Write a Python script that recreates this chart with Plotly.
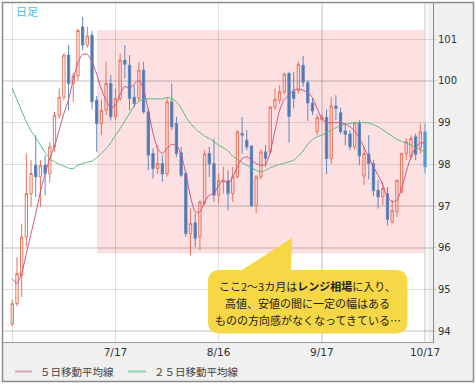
import pandas as pd
import plotly.graph_objects as go

# ---- data (USD/JPY daily) ----
dates = [d.strftime("%Y-%m-%d") for d in pd.bdate_range("2013-06-17", "2013-10-17")]

opens = [94.17, 94.66, 95.34, 96.26, 97.30, 97.98, 97.70, 97.98, 97.78, 98.42,
         99.18, 99.61, 100.62, 99.94, 100.12, 101.30, 100.86, 101.10, 99.54, 98.98,
         99.30, 99.94, 99.14, 99.58, 100.50, 100.38, 99.61, 99.58, 100.26, 99.26,
         98.26, 97.90, 98.02, 97.78, 99.50, 98.98, 98.28, 97.78, 96.34, 96.60,
         96.26, 97.08, 98.26, 98.02, 97.26, 97.58, 97.61, 97.30, 97.70, 98.74,
         98.58, 98.44, 97.02, 97.70, 98.30, 98.30, 99.37, 99.54, 99.74, 100.18,
         99.76, 99.76, 100.38, 99.96, 99.47, 98.78, 99.08, 99.13, 98.14, 99.40,
         99.24, 98.80, 98.73, 98.42, 98.99, 97.72, 98.25, 98.02, 97.38, 97.22,
         97.30, 96.62, 96.86, 97.34, 98.26, 98.18, 98.66, 98.40, 98.78]
highs = [94.75, 95.77, 96.58, 98.26, 98.10, 98.70, 98.10, 98.22, 98.54, 99.26,
         99.82, 100.66, 100.86, 100.20, 101.25, 101.54, 101.30, 101.20, 99.64, 99.54,
         100.46, 100.14, 99.82, 100.66, 100.86, 100.62, 99.90, 100.46, 100.46, 99.34,
         98.38, 98.46, 98.22, 99.58, 99.94, 99.14, 98.42, 97.82, 96.94, 96.82,
         97.14, 98.34, 98.42, 98.62, 97.78, 97.94, 97.86, 97.94, 98.82, 99.14,
         98.82, 98.46, 97.74, 98.36, 98.46, 99.40, 99.82, 99.90, 100.20, 100.22,
         100.22, 100.46, 100.60, 100.02, 99.58, 99.20, 99.20, 99.32, 99.62, 99.66,
         99.36, 98.98, 98.82, 99.02, 99.06, 98.42, 98.70, 98.10, 97.62, 97.58,
         97.46, 97.14, 97.62, 98.28, 98.62, 98.70, 98.74, 98.98, 98.98]
lows = [94.12, 94.60, 94.82, 96.02, 96.98, 97.22, 96.98, 97.26, 97.56, 98.30,
        99.10, 99.54, 99.29, 99.50, 100.00, 100.74, 100.80, 99.32, 98.30, 98.70,
        99.18, 99.05, 99.06, 99.52, 100.06, 99.30, 99.36, 99.50, 99.22, 97.86,
        97.66, 97.77, 97.58, 97.70, 98.82, 98.18, 97.70, 96.26, 95.82, 96.02,
        95.94, 97.02, 97.70, 97.10, 97.06, 97.30, 96.90, 97.10, 97.66, 98.26,
        98.34, 96.98, 96.82, 97.64, 97.94, 98.24, 99.30, 99.46, 99.68, 98.52,
        99.34, 99.70, 99.86, 99.04, 99.18, 98.70, 99.04, 97.77, 98.01, 99.06,
        98.72, 98.46, 98.34, 98.36, 97.98, 97.50, 97.64, 97.24, 96.94, 97.02,
        96.54, 96.58, 96.74, 97.30, 98.10, 98.10, 98.10, 98.26, 97.78]
closes = [94.66, 95.38, 96.26, 97.30, 97.78, 97.70, 97.97, 97.78, 98.42, 99.18,
          99.61, 100.62, 99.94, 100.12, 101.21, 100.86, 101.08, 99.50, 98.98, 99.29,
          99.94, 99.14, 99.58, 100.50, 100.40, 99.58, 99.46, 100.26, 99.26, 98.22,
          97.90, 98.02, 97.77, 99.50, 98.90, 98.26, 97.74, 96.34, 96.58, 96.22,
          97.10, 98.25, 98.01, 97.26, 97.61, 97.62, 97.30, 97.70, 98.78, 98.70,
          98.42, 97.00, 97.70, 98.30, 98.14, 99.37, 99.56, 99.74, 100.17, 99.15,
          99.58, 100.40, 99.97, 99.47, 99.28, 99.12, 99.13, 98.14, 99.40, 99.34,
          98.78, 98.72, 98.42, 98.99, 98.20, 98.26, 98.02, 97.37, 97.22, 97.42,
          96.68, 96.89, 97.62, 98.26, 98.54, 98.62, 98.24, 98.78, 97.94]

ma5 = [95.26, 95.14, 95.38, 95.86, 96.34, 96.82, 97.34, 97.78, 98.14, 98.44,
       98.82, 99.22, 99.56, 100.04, 100.44, 100.64, 100.64, 100.46, 100.16, 99.80,
       99.54, 99.36, 99.42, 99.68, 99.87, 99.82, 99.93, 100.02, 99.80, 99.30,
       98.75, 98.38, 98.26, 98.38, 98.48, 98.46, 98.24, 97.78, 97.22, 96.86,
       96.86, 97.10, 97.26, 97.30, 97.50, 97.62, 97.54, 97.70, 97.94, 98.14,
       98.18, 98.10, 98.02, 97.98, 98.00, 98.30, 98.80, 99.30, 99.56, 99.66,
       99.78, 99.81, 99.78, 99.72, 99.60, 99.34, 99.10, 99.00, 99.00, 99.00,
       99.00, 98.97, 98.90, 98.80, 98.64, 98.40, 98.18, 97.94, 97.74, 97.50,
       97.22, 97.10, 97.14, 97.42, 97.82, 98.18, 98.40, 98.52, 98.50]
ma25 = [99.82, 99.55, 99.28, 99.02, 98.80, 98.64, 98.46, 98.28, 98.14, 98.06,
        98.00, 97.96, 97.91, 97.90, 97.98, 98.02, 98.05, 98.08, 98.16, 98.26,
        98.38, 98.52, 98.70, 98.86, 99.04, 99.22, 99.40, 99.52, 99.56, 99.57,
        99.57, 99.57, 99.57, 99.60, 99.58, 99.50, 99.35, 99.14, 98.98, 98.86,
        98.76, 98.68, 98.62, 98.54, 98.46, 98.40, 98.32, 98.20, 98.12, 98.04,
        97.98, 97.92, 97.86, 97.82, 97.86, 97.92, 97.96, 98.00, 98.03, 98.06,
        98.10, 98.20, 98.32, 98.48, 98.60, 98.66, 98.70, 98.76, 98.82, 98.88,
        98.93, 98.96, 98.98, 99.00, 99.00, 99.00, 98.99, 98.95, 98.90, 98.83,
        98.75, 98.68, 98.60, 98.55, 98.51, 98.46, 98.40, 98.35, 98.30]

tick_dates = ["2013-06-17", "2013-07-17", "2013-08-16", "2013-09-17", "2013-10-17"]
tick_labels = ["", "7/17", "8/16", "9/17", "10/17"]
y_ticks = [94, 95, 96, 97, 98, 99, 100, 101]

legend_labels = ["５日移動平均線", "２５日移動平均線"]
note_lines = ["ここ2～3カ月は<b>レンジ相場</b>に入り、",
              "高値、安値の間に一定の幅はある",
              "ものの方向感がなくなってきている…"]
range_box = {"x0": 18.05, "x1": 87.8, "y0": 95.86, "y1": 101.22}

# ---- figure ----
W, H = 476, 387
ML, MR, MT, MB = 3, 43, 3, 45
PW, PH = W - ML - MR, H - MT - MB


def PX(x):
    return (x - ML) / PW


def PY(y):
    return (H - MB - y) / PH


UP = "#e8725a"
DOWN_FILL = "#4c74ab"
DOWN_LINE = "#6089c0"
PINK = "#c95488"
GREEN = "#52b97b"

fig = go.Figure()
fig.add_trace(go.Candlestick(
    x=dates[:-1], open=opens[:-1], high=highs[:-1], low=lows[:-1], close=closes[:-1],
    increasing=dict(line=dict(color=UP, width=1), fillcolor="rgba(255,255,255,0)"),
    decreasing=dict(line=dict(color=DOWN_LINE, width=1), fillcolor=DOWN_FILL),
    showlegend=False, hoverinfo="skip"))
fig.add_trace(go.Candlestick(
    x=dates[-1:], open=opens[-1:], high=highs[-1:], low=lows[-1:], close=closes[-1:],
    increasing=dict(line=dict(color=UP, width=1), fillcolor="rgba(255,255,255,0)"),
    decreasing=dict(line=dict(color="#5aa3dc", width=1), fillcolor="#4a93d2"),
    showlegend=False, hoverinfo="skip"))
fig.add_trace(go.Scatter(x=dates, y=ma25, mode="lines",
                         line=dict(color=GREEN, width=1, shape="spline", smoothing=0.6),
                         showlegend=False, hoverinfo="skip"))
fig.add_trace(go.Scatter(x=dates, y=ma5, mode="lines",
                         line=dict(color=PINK, width=1, shape="spline", smoothing=0.6),
                         showlegend=False, hoverinfo="skip"))

shapes = []
# shaded range
shapes.append(dict(type="rect", xref="x", yref="y", layer="below",
                   fillcolor="#fde0e1", line=dict(width=0), **range_box))
# grey strip near right edge of plot
shapes.append(dict(type="rect", xref="paper", yref="paper", layer="below",
                   x0=PX(427.5), x1=PX(433), y0=PY(342), y1=PY(2),
                   fillcolor="#f1f1f1", line=dict(width=0)))
# axis areas
shapes.append(dict(type="rect", xref="paper", yref="paper", layer="below",
                   x0=PX(433), x1=PX(474), y0=PY(382), y1=PY(2),
                   fillcolor="#f0f0f0", line=dict(width=0)))
shapes.append(dict(type="rect", xref="paper", yref="paper", layer="below",
                   x0=PX(2), x1=PX(433), y0=PY(382), y1=PY(342),
                   fillcolor="#f0f0f0", line=dict(width=0)))
# outer border
shapes.append(dict(type="rect", xref="paper", yref="paper", layer="above",
                   x0=PX(2.5), x1=PX(473.5), y0=PY(381.5), y1=PY(2.5),
                   fillcolor="rgba(0,0,0,0)", line=dict(color="#8c8c8c", width=1.5)))
# legend swatches
shapes.append(dict(type="line", xref="paper", yref="paper",
                   x0=PX(15), x1=PX(32), y0=PY(371.5), y1=PY(371.5),
                   line=dict(color="#d6a6bf", width=2)))
shapes.append(dict(type="line", xref="paper", yref="paper",
                   x0=PX(128), x1=PX(146), y0=PY(371.5), y1=PY(371.5),
                   line=dict(color="#8ed5b2", width=2)))

# callout bubble (rounded box + pointer)
bl, br, bt, bb, r = 208, 407.5, 270, 333.5, 12


def P(x, y):
    return f"{PX(x):.5f},{PY(y):.5f}"


path = (f"M {P(bl + r, bt)} L {P(242, bt)} L {P(292, 238)} L {P(291, bt)} "
        f"L {P(br - r, bt)} Q {P(br, bt)} {P(br, bt + r)} "
        f"L {P(br, bb - r)} Q {P(br, bb)} {P(br - r, bb)} "
        f"L {P(bl + r, bb)} Q {P(bl, bb)} {P(bl, bb - r)} "
        f"L {P(bl, bt + r)} Q {P(bl, bt)} {P(bl + r, bt)} Z")
shapes.append(dict(type="path", xref="paper", yref="paper", path=path,
                   fillcolor="#f6d746", line=dict(width=0), layer="above"))

CJK = "Noto Sans CJK JP"
annotations = [
    dict(text="日足", x=PX(14), y=PY(11), xref="paper", yref="paper",
         xanchor="left", yanchor="middle", showarrow=False,
         font=dict(family=CJK, size=11, color="#3fbdf0")),
    dict(text=legend_labels[0], x=PX(38), y=PY(371.5), xref="paper", yref="paper",
         xanchor="left", yanchor="middle", showarrow=False,
         font=dict(family=CJK, size=10.5, color="#444")),
    dict(text=legend_labels[1], x=PX(152), y=PY(371.5), xref="paper", yref="paper",
         xanchor="left", yanchor="middle", showarrow=False,
         font=dict(family=CJK, size=10.5, color="#444")),
]
for k, line in enumerate(note_lines):
    annotations.append(dict(text=line, x=PX(307.5), y=PY(286 + 17 * k),
                            xref="paper", yref="paper", xanchor="center",
                            yanchor="middle", showarrow=False,
                            font=dict(family=CJK, size=11, color="#222")))

fig.update_layout(
    width=W, height=H,
    margin=dict(l=ML, r=MR, t=MT, b=MB, pad=0),
    paper_bgcolor="white", plot_bgcolor="white",
    showlegend=False, hovermode=False,
    shapes=shapes, annotations=annotations,
    xaxis=dict(type="category", range=[-1.98, 89.7], rangeslider=dict(visible=False),
               tickmode="array", tickvals=tick_dates, ticktext=tick_labels,
               showgrid=True, gridcolor="rgba(0,0,0,0.12)", gridwidth=1.5,
               showline=True, linecolor="#9a9a9a", linewidth=1, ticks="",
               tickfont=dict(family="DejaVu Sans", size=10.5, color="#333"),
               zeroline=False, fixedrange=True),
    yaxis=dict(side="right", range=[93.74, 101.87],
               tickmode="array", tickvals=y_ticks, ticktext=[str(v) for v in y_ticks],
               showgrid=True, gridcolor="rgba(0,0,0,0.12)", gridwidth=1.5,
               showline=True, linecolor="#8a8a8a", linewidth=1,
               ticks="outside", ticklen=2, tickcolor="#c8c8c8",
               tickfont=dict(family="DejaVu Sans", size=10, color="#333"),
               zeroline=False, fixedrange=True),
)

fig.write_html("out.html", config={"staticPlot": True},
               post_script="document.body.style.margin='0';document.body.style.padding='0';")
